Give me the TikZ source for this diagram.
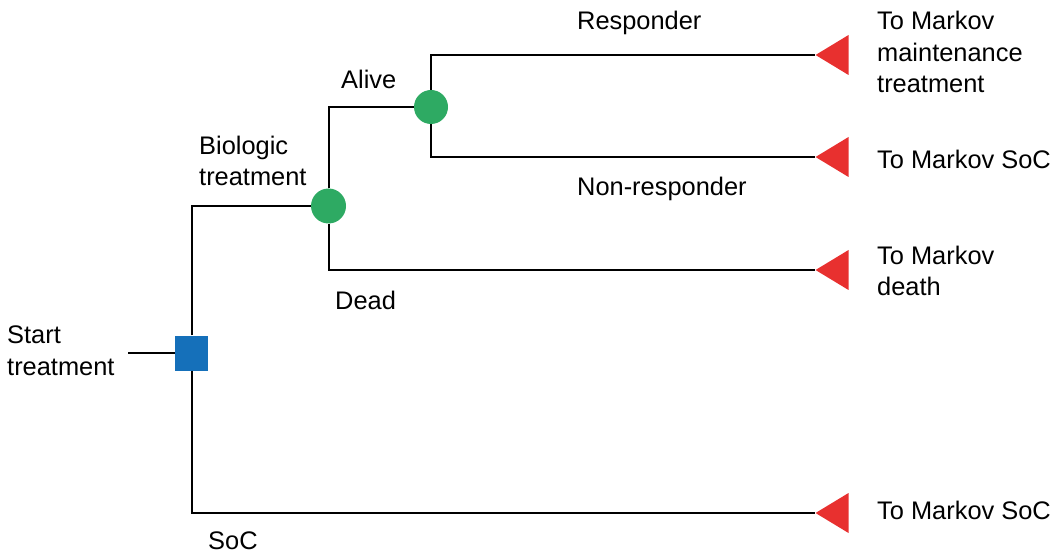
\documentclass[tikz,border=0pt]{standalone}
\usepackage{fontspec}
\setmainfont{Liberation Sans}
\usetikzlibrary{shapes.geometric}
\definecolor{sqblue}{RGB}{21,112,186}
\definecolor{cgreen}{RGB}{46,170,99}
\definecolor{tred}{RGB}{232,48,47}
\begin{document}
\begin{tikzpicture}[x=1pt,y=-1pt,
  line/.style={draw=black,line width=2pt},
  lbl/.style={inner sep=0pt,anchor=base west,align=left,font=\fontsize{25.4}{31.5}\selectfont},
  decision/.style={rectangle,fill=sqblue,minimum width=33pt,minimum height=35pt,inner sep=0pt},
  chance/.style={circle,fill=cgreen,minimum size=35pt,inner sep=0pt},
  terminal/.style={isosceles triangle,shape border rotate=180,isosceles triangle stretches,fill=tred,minimum width=40pt,minimum height=33pt,inner sep=0pt}]
\useasboundingbox (0,0) rectangle (1052,553);
% nodes
\node[decision] (dec) at (191.5,353) {};
\node[chance] (c1) at (328.5,206) {};
\node[chance,minimum size=34pt] (c2) at (431,107) {};
\node[terminal,anchor=apex] (t1) at (815,55) {};
\node[terminal,anchor=apex] (t2) at (815,157) {};
\node[terminal,anchor=apex] (t3) at (815,270) {};
\node[terminal,anchor=apex] (t4) at (815,513) {};
\coordinate (s) at (128,353);
% connectors
\draw[line] (s) -- (dec.west);
\draw[line] (dec.north) |- (c1.west);
\draw[line] (dec.south) |- (t4.apex);
\draw[line] (c1.north) |- (c2.west);
\draw[line] (c1.south) |- (t3.apex);
\draw[line] (c2.north) |- (t1.apex);
\draw[line] (c2.south) |- (t2.apex);
% labels
\node[lbl] (lstart) at (7,375) {Start\\treatment};
\node[lbl] (lbio) at (199,186) {Biologic\\treatment};
\node[lbl] (lalive) at (341,89) {Alive};
\node[lbl] (ldead) at (335,309) {Dead};
\node[lbl] (lsoc) at (208,549) {SoC};
\node[lbl] (lresp) at (577,30) {Responder};
\node[lbl] (lnon) at (577,196) {Non-responder};
\node[lbl] (r1) at (877,93) {To Markov\\maintenance\\treatment};
\node[lbl] (r2) at (877,169) {To Markov SoC};
\node[lbl] (r3) at (877,296) {To Markov\\death};
\node[lbl] (r4) at (877,519) {To Markov SoC};
\end{tikzpicture}
\end{document}
